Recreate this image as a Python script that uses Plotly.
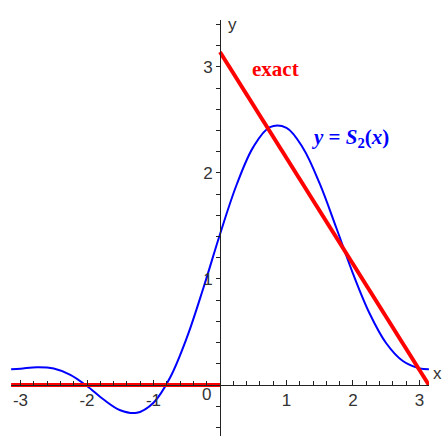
import plotly.graph_objects as go

PI = 3.14159265

# Partial Fourier sum S_2(x) sampled across one period
s2_x = [-3.1416, -3.0, -2.75, -2.5, -2.25, -2.0, -1.75, -1.5, -1.25, -1.0,
        -0.75, -0.5, -0.25, 0.0, 0.25, 0.5, 0.75, 1.0, 1.25, 1.5, 1.75,
        2.0, 2.25, 2.5, 2.75, 3.0, 3.1416]
s2_y = [0.149, 0.154, 0.168, 0.156, 0.096, -0.010, -0.137, -0.238, -0.262,
        -0.167, 0.071, 0.444, 0.915, 1.422, 1.889, 2.244, 2.432, 2.426,
        2.234, 1.899, 1.481, 1.051, 0.675, 0.394, 0.226, 0.157, 0.149]

# Exact function: 0 on [-pi, 0), pi - x on [0, pi] (jump left open)
exact_x = [-3.1416, 0.0, None, 0.0, 3.1416]
exact_y = [0.0, 0.0, None, 3.1416, 0.0]

x_ticks = [-3, -2, -1, 1, 2, 3]
y_ticks = [1, 2, 3]

W, H = 448, 436
x_px0, x_px1 = 11.1, 428.9          # pixel span of x in [-pi, pi]
y_top_px = 20                         # top of the y axis line
y_range = [-0.481, 3.443]

tick_font = dict(family="Liberation Sans, Arial, sans-serif", size=17, color="#333333")

fig = go.Figure()
fig.add_trace(go.Scatter(x=s2_x, y=s2_y, mode="lines",
                         line=dict(color="#0000ff", width=2, shape="spline"),
                         hoverinfo="skip", showlegend=False))
fig.add_trace(go.Scatter(x=exact_x, y=exact_y, mode="lines",
                         line=dict(color="#ff0000", width=4),
                         connectgaps=False,
                         hoverinfo="skip", showlegend=False))

fig.update_layout(
    width=W, height=H,
    margin=dict(l=0, r=0, t=0, b=0),
    paper_bgcolor="white", plot_bgcolor="white",
    xaxis=dict(
        domain=[x_px0 / W, x_px1 / W], range=[-PI, PI],
        anchor="free", position=(H - 385) / H,
        showline=True, linecolor="#222222", linewidth=1,
        showgrid=False, zeroline=False,
        ticks="inside", ticklen=5, tickcolor="#222222",
        tickvals=x_ticks, ticktext=[str(v) for v in x_ticks],
        tickfont=tick_font,
        minor=dict(dtick=0.2, tick0=0, ticks="inside", ticklen=4, tickcolor="#222222"),
    ),
    yaxis=dict(
        domain=[0, 1 - y_top_px / H], range=y_range,
        anchor="free", position=220 / W,
        showline=True, linecolor="#222222", linewidth=1,
        showgrid=False, zeroline=False,
        ticks="outside", ticklen=4, tickcolor="#222222",
        tickvals=y_ticks, ticktext=[str(v) for v in y_ticks],
        tickfont=tick_font,
        minor=dict(dtick=0.2, tick0=0, ticks="outside", ticklen=4, tickcolor="#222222"),
    ),
)

fig.add_annotation(x=232 / W, y=1 - 13 / H, xref="paper", yref="paper",
                   text="y", showarrow=False, font=tick_font)
fig.add_annotation(x=444 / W, y=(H - 385) / H, xref="paper", yref="paper",
                   text="x", showarrow=False, font=tick_font)
fig.add_annotation(x=-0.21, y=-0.085, xref="x", yref="y",
                   text="0", showarrow=False, font=tick_font)

fig.add_annotation(x=0.84, y=2.98, xref="x", yref="y", text="<b>exact</b>",
                   showarrow=False,
                   font=dict(family="Liberation Serif, Times New Roman, serif",
                             size=21, color="#ff0000"))
fig.add_annotation(x=1.955, y=2.33, xref="x", yref="y",
                   text="<b><i>y</i> = <i>S</i><sub>2</sub>(<i>x</i>)</b>",
                   showarrow=False,
                   font=dict(family="Liberation Serif, Times New Roman, serif",
                             size=21, color="#0000ff"))

fig.write_html("out.html")
